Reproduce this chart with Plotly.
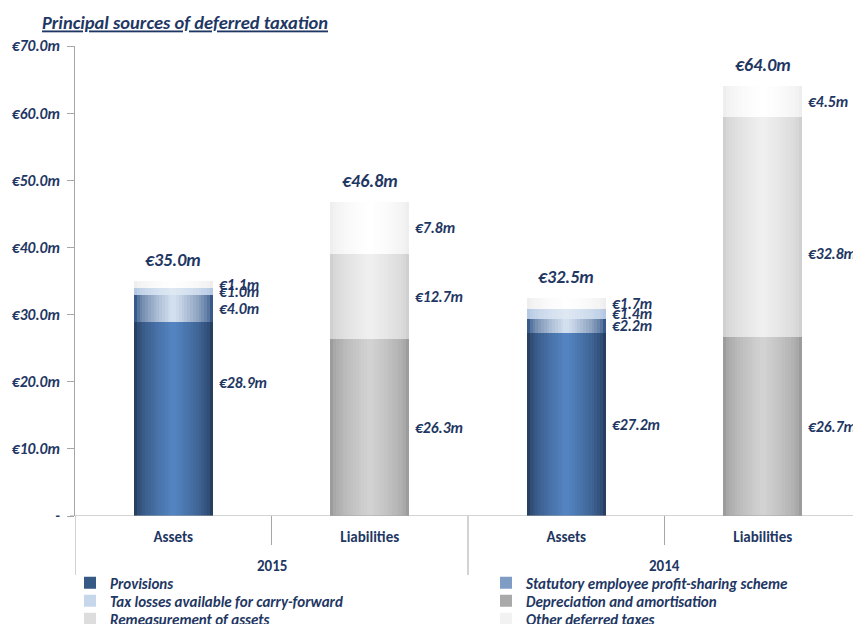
import plotly.graph_objects as go

# ---------------- data ----------------
years = ["2015", "2015", "2014", "2014"]
sides = ["Assets", "Liabilities", "Assets", "Liabilities"]

provisions = [28.9, None, 27.2, None]
profit_sharing = [4.0, None, 2.2, None]
tax_losses = [1.0, None, 1.4, None]
depreciation = [None, 26.3, None, 26.7]
remeasurement = [None, 12.7, None, 32.8]
other_taxes = [1.1, 7.8, 1.7, 4.5]

series_names = [
    "Provisions",
    "Statutory employee profit-sharing scheme",
    "Tax losses available for carry-forward",
    "Depreciation and amortisation",
    "Remeasurement of assets",
    "Other deferred taxes",
]
series_values = [provisions, profit_sharing, tax_losses, depreciation, remeasurement, other_taxes]

y_tick_vals = [0, 10, 20, 30, 40, 50, 60, 70]
y_tick_text = ["-", "€10.0m", "€20.0m", "€30.0m", "€40.0m", "€50.0m", "€60.0m", "€70.0m"]

# ---------------- style ----------------
NAVY = "#1F3763"
GRID = "#A6A6A6"
FONT = "Carlito, Lato, sans-serif"
W, H = 853, 616            # page body has an 8px margin in the browser
ML, MT, MB = 67, 38, 108
PW, PH = W - ML, H - MT - MB

edge_center = [
    ("#273F61", "#5383C1"),
    ("#38598A", "#D2DFEE"),
    ("#B4C8E2", "#DEE8F3"),
    ("#9C9C9C", "#D2D2D2"),
    ("#D0D0D0", "#EFEFEF"),
    ("#EEEEEE", "#FFFFFF"),
]
legend_swatch = ["#365985", "#7F9DC4", "#C6D7EB", "#A9A9A9", "#DDDDDD", "#F2F2F2"]
# legend slot: (column, row)
legend_slot = [(0, 0), (1, 0), (0, 1), (1, 1), (0, 2), (1, 2)]
label_nudge = {(0, 0): 36, (4, 3): -27}  # (series, category) -> pixel shift
BAR_W = 0.40
LAYERS = 14


def mix(c1, c2, t):
    a = [int(c1[i:i + 2], 16) for i in (1, 3, 5)]
    b = [int(c2[i:i + 2], 16) for i in (1, 3, 5)]
    return "#%02X%02X%02X" % tuple(round(a[k] + (b[k] - a[k]) * t) for k in range(3))


xs = list(range(len(sides)))
cat_px = PW / len(sides)
fig = go.Figure()

base = [0.0] * len(sides)
annotations = []
legends = {}
for s, (name, vals) in enumerate(zip(series_names, series_values)):
    edge, center = edge_center[s]
    bases = list(base)
    lid = "legend" if s == 0 else f"legend{s + 1}"
    for k in range(LAYERS):
        frac = 1 - k / LAYERS
        t = (k / (LAYERS - 1)) ** 0.6
        fig.add_trace(go.Bar(
            x=xs, y=vals, base=bases, width=BAR_W * frac,
            marker=dict(color=mix(edge, center, t), line=dict(width=0)),
            name=name, showlegend=False, hoverinfo="skip",
        ))
    fig.add_trace(go.Bar(
        x=xs, y=[None] * len(xs), name=name, showlegend=True, legend=lid,
        marker=dict(color=legend_swatch[s], line=dict(width=0)),
    ))
    col, row = legend_slot[s]
    legends[lid] = dict(
        x=(62 - ML + col * 416) / PW, xanchor="left",
        y=-(67 + row * 18) / PH, yanchor="middle",
        font=dict(family=FONT, size=15, color=NAVY, style="italic", weight="bold"),
        bgcolor="rgba(0,0,0,0)", borderwidth=0, itemwidth=30,
    )
    for i, v in enumerate(vals):
        if v is None:
            continue
        annotations.append(dict(
            x=xs[i], y=base[i] + v / 2, xref="x", yref="y",
            text=f"<b><i>€{v:.1f}m</i></b>", showarrow=False,
            xanchor="left", yanchor="middle", xshift=BAR_W * cat_px / 2 + 4,
            yshift=label_nudge.get((s, i), 0),
            font=dict(family=FONT, size=15.5, color=NAVY),
        ))
        base[i] += v

for i, tot in enumerate(base):
    annotations.append(dict(
        x=xs[i], y=tot, xref="x", yref="y", text=f"<b><i>€{tot:.1f}m</i></b>",
        showarrow=False, xanchor="center", yanchor="bottom", yshift=8,
        font=dict(family=FONT, size=18, color=NAVY),
    ))

# year (second level) labels and dividers
shapes = []
year_order = list(dict.fromkeys(years))
for yv in year_order:
    idx = [i for i, y in enumerate(years) if y == yv]
    annotations.append(dict(
        x=sum(idx) / len(idx), y=0, xref="x", yref="paper", yshift=-50,
        text=f"<b>{yv}</b>", showarrow=False, xanchor="center", yanchor="middle",
        font=dict(family=FONT, size=15, color=NAVY),
    ))
for b in range(len(xs) + 1):
    bx = b - 0.5
    is_year_edge = b == 0 or b == len(xs) or years[b] != years[b - 1]
    depth = 59 if is_year_edge else 29
    shapes.append(dict(
        type="line", xref="x", yref="paper", x0=bx, x1=bx, y0=0, y1=-depth / PH,
        line=dict(color=GRID, width=1), layer="below",
    ))
shapes.append(dict(
    type="line", xref="paper", yref="y", x0=-5 / PW, x1=1, y0=0, y1=0,
    line=dict(color=GRID, width=1),
))

fig.update_layout(
    width=W, height=H,
    barmode="overlay",
    paper_bgcolor="white", plot_bgcolor="white",
    margin=dict(l=ML, r=0, t=MT, b=MB, autoexpand=False),
    title=dict(
        text="<u><b><i>Principal sources of deferred taxation</i></b></u>",
        x=34 / W, xanchor="left", y=1 - 15 / H, yanchor="middle",
        font=dict(family=FONT, size=18.5, color=NAVY),
    ),
    font=dict(family=FONT, color=NAVY),
    showlegend=True,
    annotations=annotations,
    shapes=shapes,
    bargap=0,
    **legends,
)
fig.update_xaxes(
    range=[-0.5, len(xs) - 0.5], tickvals=xs, ticktext=sides,
    showline=False, ticks="", showgrid=False, zeroline=False,
    ticklabelstandoff=10,
    tickfont=dict(family=FONT, size=15, color=NAVY, weight="bold"),
)
fig.update_yaxes(
    range=[0, 70], tickvals=y_tick_vals, ticktext=y_tick_text,
    showline=True, linecolor=GRID, linewidth=1,
    ticks="outside", ticklen=7, tickcolor=GRID,
    showgrid=False, zeroline=False, ticklabelstandoff=4,
    tickfont=dict(family=FONT, size=15.5, color=NAVY, weight="bold", style="italic"),
)

fig.write_html("out.html")
